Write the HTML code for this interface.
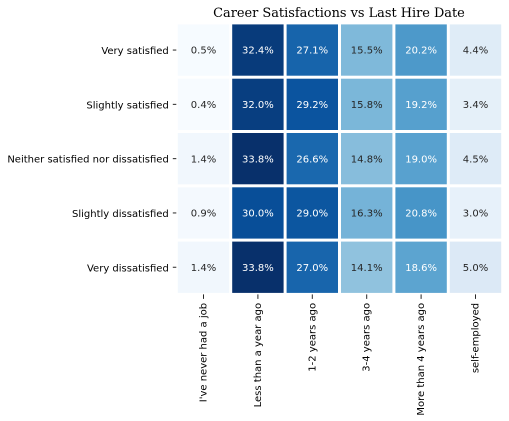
<!DOCTYPE html>
<html>
<head>
<meta charset="utf-8">
<style>
html,body{margin:0;padding:0;background:#fff;width:509px;height:421px;overflow:hidden}
svg{display:block}
text{font-family:"DejaVu Sans",sans-serif}
</style>
</head>
<body>
<svg id="chart" width="509" height="421" viewBox="0 0 509 421" xmlns="http://www.w3.org/2000/svg">
<text x="339" y="17" text-anchor="middle" style="font-family:'DejaVu Serif',serif;font-size:12.9px;fill:#000">Career Satisfactions vs Last Hire Date</text>
</svg>
<script>
const rowLabels = ["Very satisfied", "Slightly satisfied", "Neither satisfied nor dissatisfied", "Slightly dissatisfied", "Very dissatisfied"];
const colLabels = ["I've never had a job", "Less than a year ago", "1-2 years ago", "3-4 years ago", "More than 4 years ago", "self-employed"];
const rowVerySatisfied = [0.5, 32.4, 27.1, 15.5, 20.2, 4.4];
const rowSlightlySatisfied = [0.4, 32.0, 29.2, 15.8, 19.2, 3.4];
const rowNeither = [1.4, 33.8, 26.6, 14.8, 19.0, 4.5];
const rowSlightlyDissatisfied = [0.9, 30.0, 29.0, 16.3, 20.8, 3.0];
const rowVeryDissatisfied = [1.4, 33.8, 27.0, 14.1, 18.6, 5.0];
const matrix = [rowVerySatisfied, rowSlightlySatisfied, rowNeither, rowSlightlyDissatisfied, rowVeryDissatisfied];

const NS = 'http://www.w3.org/2000/svg';
const svg = document.getElementById('chart');
const LEFT = 176.3, RIGHT = 502.7, TOP = 22.9, BOTTOM = 294.4;
const cw = (RIGHT - LEFT) / colLabels.length;
const ch = (BOTTOM - TOP) / rowLabels.length;
const xAxis = function (i) { return LEFT + i * cw; };
const yAxis = function (i) { return TOP + i * ch; };
const allValues = matrix.reduce(function (a, r) { return a.concat(r); }, []);
const vMin = Math.min.apply(null, allValues);
const vMax = Math.max.apply(null, allValues);
const blues = [[247,251,255],[222,235,247],[198,219,239],[158,202,225],[107,174,214],[66,146,198],[33,113,181],[8,81,156],[8,48,107]];

function colorRGB(v) {
  const t = Math.max(0, Math.min(1, (v - vMin) / (vMax - vMin))) * (blues.length - 1);
  const i = Math.min(blues.length - 2, Math.floor(t));
  const f = t - i;
  return [0, 1, 2].map(function (k) { return Math.round(blues[i][k] + (blues[i + 1][k] - blues[i][k]) * f); });
}
function luminance(c) {
  const l = c.map(function (x) {
    const s = x / 255;
    return s <= 0.03928 ? s / 12.92 : Math.pow((s + 0.055) / 1.055, 2.4);
  });
  return 0.2126 * l[0] + 0.7152 * l[1] + 0.0722 * l[2];
}
function make(tag, attrs, txt) {
  const el = document.createElementNS(NS, tag);
  Object.keys(attrs).forEach(function (k) { el.setAttribute(k, attrs[k]); });
  if (txt !== undefined) el.textContent = txt;
  svg.appendChild(el);
  return el;
}

matrix.forEach(function (row, r) {
  row.forEach(function (v, c) {
    const rgb = colorRGB(v);
    const rect = make('rect', {
      x: xAxis(c) + 1.5, y: yAxis(r) + 1.5, width: cw - 3, height: ch - 3,
      fill: 'rgb(' + rgb.join(',') + ')'
    });
    
    
    const label = make('text', {
      x: xAxis(c) + cw / 2, y: yAxis(r) + ch / 2 + 3.6,
      'text-anchor': 'middle', 'font-size': '10',
      fill: luminance(rgb) < 0.408 ? '#ffffff' : '#262626'
    }, v.toFixed(1) + '%');
    
    
  });
});

rowLabels.forEach(function (name, r) {
  const cy = yAxis(r) + ch / 2;
  const tick = make('line', { x1: LEFT - 3.5, x2: LEFT, y1: cy, y2: cy, stroke: '#262626', 'stroke-width': 1 });
  
  
  const label = make('text', {
    x: LEFT - 7.5, y: cy + 4, 'text-anchor': 'end', 'font-size': '10', fill: '#000'
  }, name);
  
  
});

colLabels.forEach(function (name, c) {
  const cx = xAxis(c) + cw / 2;
  const tick = make('line', { x1: cx, x2: cx, y1: BOTTOM, y2: BOTTOM + 4.5, stroke: '#262626', 'stroke-width': 1 });
  
  
  const ty = BOTTOM + 8.5;
  const label = make('text', {
    x: cx + 3, y: ty, 'text-anchor': 'end', 'font-size': '10', fill: '#000',
    transform: 'rotate(-90 ' + (cx + 3) + ' ' + ty + ')'
  }, name);
  
  
});
</script>
</body>
</html>
